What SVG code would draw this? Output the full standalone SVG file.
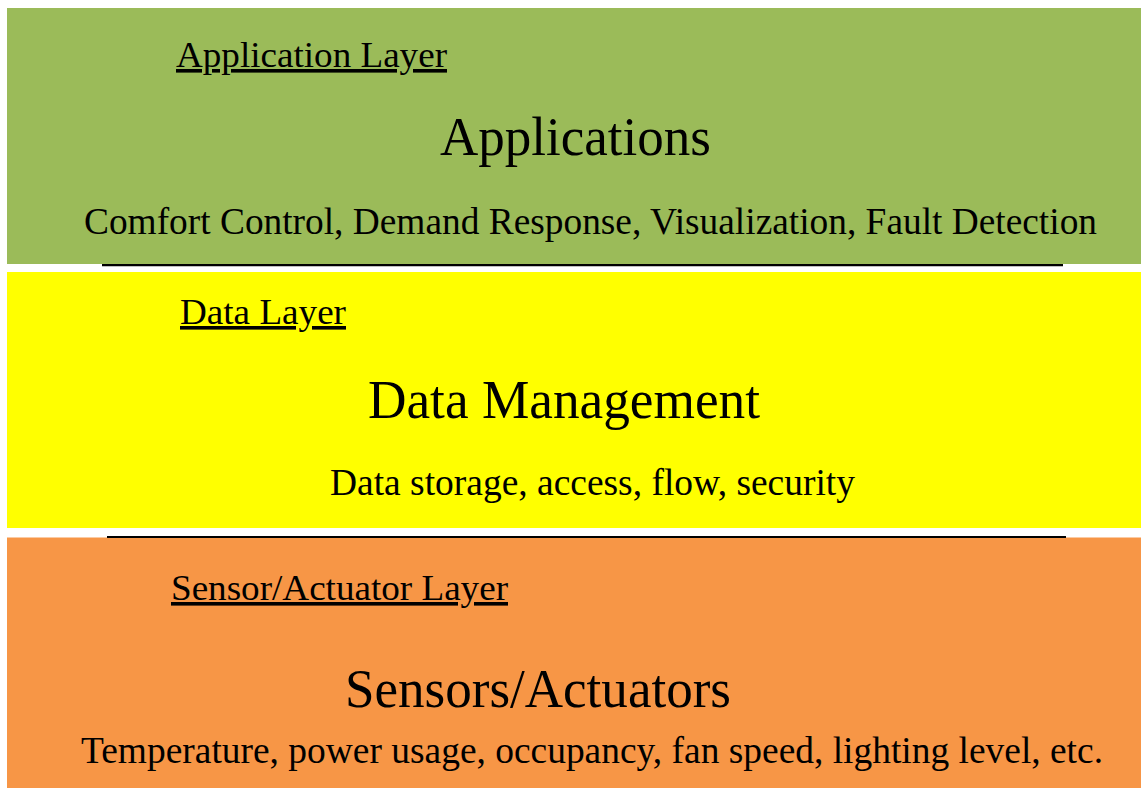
<svg xmlns="http://www.w3.org/2000/svg" width="1141" height="788" viewBox="0 0 1141 788">
<style>
text{font-family:"Liberation Serif","Times New Roman",serif;fill:#000}
.lbl{font-size:36px;text-decoration:underline}
.ttl{font-size:55px}
.sub{font-size:37px}
.sep{stroke:#000;stroke-width:2.2}
</style>
<rect width="1141" height="788" fill="#fff"/>
<g id="application-layer">
<rect x="7" y="8" width="1134" height="256" fill="#9BBB59"/>
<text class="lbl" x="176" y="67" textLength="271" lengthAdjust="spacingAndGlyphs">Application Layer</text>
<text class="ttl" x="440" y="155" textLength="271" lengthAdjust="spacingAndGlyphs">Applications</text>
<text class="sub" x="84" y="234" textLength="1013" lengthAdjust="spacingAndGlyphs">Comfort Control, Demand Response, Visualization, Fault Detection</text>
</g>
<g id="data-layer">
<rect x="7" y="272" width="1134" height="256" fill="#FFFF00"/>
<text class="lbl" x="180" y="324" textLength="166" lengthAdjust="spacingAndGlyphs">Data Layer</text>
<text class="ttl" x="368" y="418" textLength="392" lengthAdjust="spacingAndGlyphs">Data Management</text>
<text class="sub" x="330" y="495" textLength="525" lengthAdjust="spacingAndGlyphs">Data storage, access, flow, security</text>
</g>
<g id="sensor-layer">
<rect x="7" y="537.5" width="1134" height="251" fill="#F79646"/>
<text class="lbl" x="171" y="600" textLength="337" lengthAdjust="spacingAndGlyphs">Sensor/Actuator Layer</text>
<text class="ttl" x="345" y="707" textLength="386" lengthAdjust="spacingAndGlyphs">Sensors/Actuators</text>
<text class="sub" x="81" y="763" textLength="1022" lengthAdjust="spacingAndGlyphs">Temperature, power usage, occupancy, fan speed, lighting level, etc.</text>
</g>
<g id="connectors">
<line class="sep" x1="102" y1="265.2" x2="1063" y2="265.2"/>
<line class="sep" x1="107" y1="537" x2="1066" y2="537"/>
</g>
</svg>
